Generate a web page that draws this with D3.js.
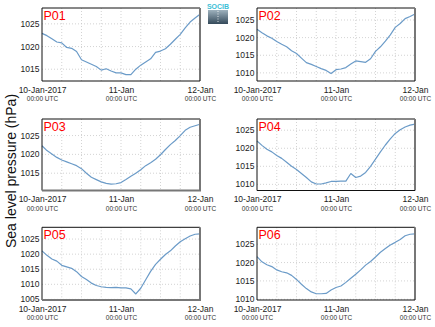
<!DOCTYPE html>
<html><head><meta charset="utf-8">
<script src="https://cdn.jsdelivr.net/npm/d3@7"></script>
<style>
html,body{margin:0;padding:0;background:#fff;}
svg{display:block;font-family:"Liberation Sans",Arial,sans-serif;}
</style></head>
<body><svg id="c" width="435" height="327"></svg>
<script>
// time in hours since 10-Jan-2017 00:00 UTC
const hours = [0,1.5,3,4.5,6,7.5,9,10.5,12,13.5,15,16.5,18,19.5,21,22.5,24,25.5,27,28.5,30,31.5,33,34.5,36,37.5,39,40.5,42,43.5,45,46.5,48];
const stations = ["P01","P02","P03","P04","P05","P06"];
const p01 = [1022.9,1022.4,1021.7,1021.0,1020.8,1019.8,1019.6,1018.9,1017.1,1016.6,1016.1,1015.6,1014.8,1015.1,1014.6,1014.2,1014.2,1013.8,1013.8,1015.0,1015.9,1016.6,1017.3,1018.7,1019.0,1019.5,1020.5,1021.6,1022.7,1024.1,1025.4,1026.3,1027.1];
const p02 = [1022.4,1021.4,1020.5,1019.8,1018.9,1018.1,1017.4,1016.3,1015.5,1014.2,1012.9,1012.4,1011.8,1011.2,1010.7,1009.8,1010.9,1011.1,1011.5,1012.5,1013.4,1013.2,1013.0,1014.0,1016.1,1017.4,1019.0,1020.8,1022.9,1024.0,1025.4,1026.0,1026.7];
const p03 = [1022.3,1021.0,1020.1,1019.2,1018.5,1018.0,1017.5,1017.0,1016.2,1015.0,1013.9,1013.3,1012.7,1012.3,1012.1,1012.2,1012.5,1013.3,1014.2,1015.0,1015.9,1017.0,1017.8,1018.7,1019.9,1021.3,1022.6,1023.7,1025.0,1026.4,1027.2,1027.6,1028.0];
const p04 = [1022.0,1020.8,1019.7,1019.0,1018.0,1017.2,1016.1,1015.0,1014.1,1013.0,1011.9,1010.7,1010.1,1010.1,1010.4,1010.8,1010.8,1010.9,1010.9,1013.0,1011.9,1012.3,1013.3,1015.0,1017.0,1019.0,1020.9,1022.6,1024.1,1025.1,1025.9,1026.4,1026.7];
const p05 = [1021.1,1019.6,1018.4,1017.7,1016.3,1015.8,1015.3,1014.2,1012.6,1011.6,1010.4,1009.6,1009.2,1009.0,1008.9,1009.0,1008.8,1008.8,1008.5,1006.8,1008.7,1011.5,1014.3,1016.6,1018.3,1019.9,1021.1,1022.7,1024.1,1025.1,1026.0,1026.6,1026.7];
const p06 = [1021.6,1020.2,1019.4,1018.9,1018.0,1017.5,1017.2,1016.5,1015.4,1014.1,1012.9,1012.0,1011.5,1011.5,1011.6,1012.5,1013.2,1013.6,1014.6,1015.7,1016.8,1018.0,1019.3,1020.3,1021.5,1022.8,1023.8,1024.8,1025.5,1026.3,1027.3,1027.7,1027.8];
const series = [p01,p02,p03,p04,p05,p06];
const yMin = [1012.4,1007.7,1010.4,1008.3,1004.8,1009.8];
const yMax = [1028.5,1028.4,1029.4,1028.1,1028.9,1029.6];
const yTicks = [[1015,1020,1025],[1010,1015,1020,1025],[1015,1020,1025],[1010,1015,1020,1025],[1005,1010,1015,1020,1025],[1010,1015,1020,1025]];
const xTickHours = [0,24,48];
const xTickLabels = ["10-Jan-2017","11-Jan","12-Jan"];
const xTickSub = ["00:00 UTC","00:00 UTC","00:00 UTC"];
const gridHours = [6,12,18,24,30,36,42];
const yLabel = "Sea level pressure (hPa)";

const svg = d3.select("#c");
const cols = [[42,200],[257,415]];
const rows = [[8,81],[119,190.5],[227.3,300]];
const thickBottom = [false,false,true,false,true,false];

stations.forEach((name,i)=>{
  const [x0,x1] = cols[i%2];
  const [y0,y1] = rows[Math.floor(i/2)];
  const x = d3.scaleLinear().domain([0,48]).range([x0,x1]);
  const y = d3.scaleLinear().domain([yMin[i],yMax[i]]).range([y1,y0]);
  const g = svg.append("g");
  // grid
  g.selectAll(".vg").data(gridHours).join("line")
    .attr("x1",d=>x(d)).attr("x2",d=>x(d)).attr("y1",y0).attr("y2",y1)
    .attr("stroke","#c8c8c8").attr("stroke-width",0.8).attr("stroke-dasharray","1,2");
  g.selectAll(".hg").data(yTicks[i]).join("line")
    .attr("x1",x0).attr("x2",x1).attr("y1",d=>y(d)).attr("y2",d=>y(d))
    .attr("stroke","#c8c8c8").attr("stroke-width",0.8).attr("stroke-dasharray","1,2");
  // y axis labels
  const ya = g.append("g").attr("transform",`translate(${x0},0)`)
    .call(d3.axisLeft(y).tickValues(yTicks[i]).tickSize(0).tickPadding(2.5).tickFormat(d3.format("d")));
  ya.select(".domain").remove();
  ya.selectAll("text").attr("font-size",8.5).attr("fill","#222").attr("dy","0.3em").attr("font-family","Liberation Sans, Arial, sans-serif");
  // x axis labels
  const xa = g.append("g").attr("transform",`translate(0,${y1})`)
    .call(d3.axisBottom(x).tickValues(xTickHours).tickSize(0).tickPadding(0).tickFormat((d,k)=>xTickLabels[k]));
  xa.select(".domain").remove();
  xa.selectAll("text").attr("y",11.6).attr("dy",null).attr("font-size",8.5).attr("fill","#222").attr("font-family","Liberation Sans, Arial, sans-serif");
  xa.selectAll(".tick").append("text")
    .attr("y",20).attr("text-anchor","middle").attr("font-size",6.5).attr("fill","#333")
    .attr("font-family","Liberation Sans, Arial, sans-serif")
    .text((d,k)=>xTickSub[k]);
  // line
  const line = d3.line().x((d,k)=>x(hours[k])).y(d=>y(d));
  g.append("path").datum(series[i]).attr("d",line)
    .attr("fill","none").attr("stroke","#6b9bc8").attr("stroke-width",1.2).attr("stroke-linejoin","round");
  // frame
  g.append("line").attr("x1",x0).attr("x2",x0).attr("y1",y0).attr("y2",y1).attr("stroke","#111").attr("stroke-width",1);
  g.append("line").attr("x1",x0).attr("x2",x1).attr("y1",y0).attr("y2",y0).attr("stroke","#111").attr("stroke-width",1);
  g.append("line").attr("x1",x1).attr("x2",x1).attr("y1",y0).attr("y2",y1).attr("stroke","#777").attr("stroke-width",2);
  if(thickBottom[i]){
    g.append("line").attr("x1",x0).attr("x2",x1+1).attr("y1",y1).attr("y2",y1).attr("stroke","#777").attr("stroke-width",2);
  } else {
    g.append("line").attr("x1",x0).attr("x2",x1).attr("y1",y1).attr("y2",y1).attr("stroke","#111").attr("stroke-width",1);
  }
  // station label
  g.append("text").attr("x",x0+1.5).attr("y",y0+12).attr("fill","#f00").attr("font-size",12.5).text(name);
});

// y label
svg.append("text").attr("transform","translate(16,171) rotate(-90)")
  .attr("text-anchor","middle").attr("font-size",14).attr("fill","#111").text(yLabel);

// logo
const defs = svg.append("defs");
const lg = defs.append("linearGradient").attr("id","lg").attr("x1",0).attr("x2",0).attr("y1",0).attr("y2",1);
lg.append("stop").attr("offset","0%").attr("stop-color","#9fb2be");
lg.append("stop").attr("offset","100%").attr("stop-color","#34495a");
svg.append("rect").attr("x",208).attr("y",10).attr("width",20).attr("height",14).attr("fill","url(#lg)");
svg.append("line").attr("x1",218).attr("x2",218).attr("y1",11).attr("y2",23).attr("stroke","#fff").attr("stroke-width",0.8).attr("stroke-dasharray","1,1.5");
svg.append("text").attr("x",218).attr("y",9).attr("text-anchor","middle").attr("font-size",7).attr("fill","#3cc0d6").attr("font-weight","bold").text("SOCIB");
</script></body></html>
